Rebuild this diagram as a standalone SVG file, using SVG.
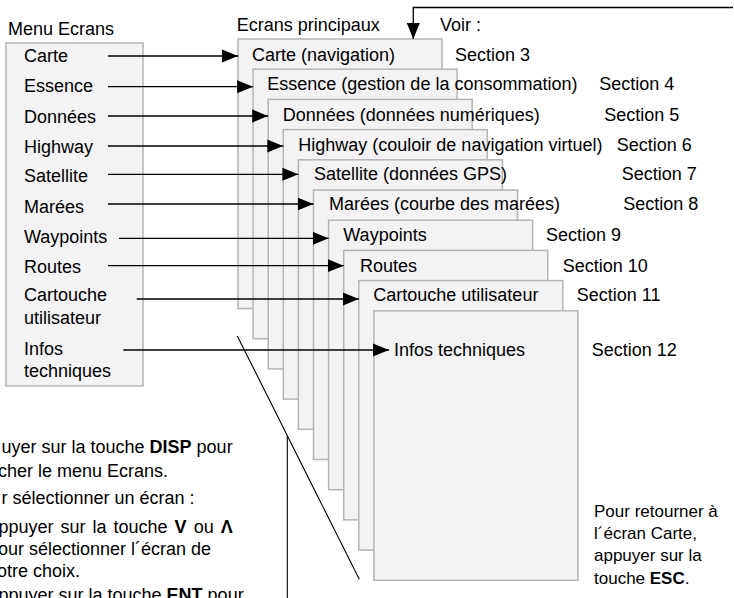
<svg xmlns="http://www.w3.org/2000/svg" width="734" height="598" viewBox="0 0 734 598">
<defs>
<marker id="ah" markerUnits="userSpaceOnUse" markerWidth="16" markerHeight="14" refX="16" refY="7" orient="auto">
<path d="M0,0.5 L16,7 L0,13.5 Z" fill="#000"/>
</marker>
<style>
text{font-family:"Liberation Sans",Arial,sans-serif;font-size:18px;fill:#000}
.sm{font-size:17px}
.b{font-weight:bold}
.box{fill:#f3f3f3;stroke:#b4b4b4;stroke-width:1.5}
.con{fill:none;stroke:#000;stroke-width:1.3}
.ln{fill:none;stroke:#000;stroke-width:1.1}
</style>
</defs>
<rect width="734" height="598" fill="#fff"/>

<g id="menu">
<text x="8" y="35">Menu Ecrans</text>
<rect class="box" x="6" y="43" width="137" height="343"/>
<text x="24" y="62">Carte</text>
<text x="24" y="92.3">Essence</text>
<text x="24" y="123">Données</text>
<text x="24" y="153">Highway</text>
<text x="24" y="182">Satellite</text>
<text x="24" y="212.7">Marées</text>
<text x="24" y="242.7">Waypoints</text>
<text x="24" y="272.7">Routes</text>
<text x="24" y="301">Cartouche</text>
<text x="24" y="324.3">utilisateur</text>
<text x="24" y="355.3">Infos</text>
<text x="24" y="377">techniques</text>
</g>

<text x="236.7" y="31">Ecrans principaux</text>
<text x="440" y="31">Voir :</text>

<g id="page-carte"><rect class="box" x="238" y="39" width="204" height="269.5"/><text x="252" y="60.7">Carte (navigation)</text></g>
<g id="page-essence"><rect class="box" x="253.1" y="69.2" width="204" height="269.5"/><text x="267.3" y="90">Essence (gestion de la consommation)</text></g>
<g id="page-donnees"><rect class="box" x="268.2" y="99.4" width="204" height="269.5"/><text x="282.7" y="120.7">Données (données numériques)</text></g>
<g id="page-highway"><rect class="box" x="283.3" y="129.6" width="204" height="269.5"/><text x="298.3" y="151">Highway (couloir de navigation virtuel)</text></g>
<g id="page-satellite"><rect class="box" x="298.4" y="159.8" width="204" height="269.5"/><text x="314" y="180">Satellite (données GPS)</text></g>
<g id="page-marees"><rect class="box" x="313.5" y="190" width="204" height="269.5"/><text x="329" y="210">Marées (courbe des marées)</text></g>
<g id="page-waypoints"><rect class="box" x="328.6" y="220.2" width="204" height="269.5"/><text x="343.3" y="240.7">Waypoints</text></g>
<g id="page-routes"><rect class="box" x="343.7" y="250.4" width="204" height="269.5"/><text x="360" y="271.7">Routes</text></g>
<g id="page-cartouche"><rect class="box" x="358.8" y="280.6" width="204" height="269.5"/><text x="373.3" y="301">Cartouche utilisateur</text></g>
<g id="page-infos"><rect class="box" x="373.9" y="310.8" width="204" height="269.5"/><text x="394" y="355.7">Infos techniques</text></g>

<g id="sections">
<text x="455" y="60.7">Section 3</text>
<text x="599.3" y="90">Section 4</text>
<text x="604.3" y="120.7">Section 5</text>
<text x="616.7" y="151">Section 6</text>
<text x="621.7" y="180">Section 7</text>
<text x="623.3" y="210">Section 8</text>
<text x="546" y="240.7">Section 9</text>
<text x="562.7" y="271.7">Section 10</text>
<text x="576.7" y="301">Section 11</text>
<text x="591.7" y="355.7">Section 12</text>
</g>

<g id="connectors">
<path class="con" d="M108,56 H238" marker-end="url(#ah)"/>
<path class="con" d="M108,86.7 H253.1" marker-end="url(#ah)"/>
<path class="con" d="M108,116 H268.2" marker-end="url(#ah)"/>
<path class="con" d="M108,146 H283.3" marker-end="url(#ah)"/>
<path class="con" d="M108,174.3 H298.4" marker-end="url(#ah)"/>
<path class="con" d="M108,204 H313.5" marker-end="url(#ah)"/>
<path class="con" d="M119,238.3 H328.6" marker-end="url(#ah)"/>
<path class="con" d="M108,265.7 H343.7" marker-end="url(#ah)"/>
<path class="con" d="M136.7,299 H358.8" marker-end="url(#ah)"/>
<path class="con" d="M123.3,350 H389" marker-end="url(#ah)"/>
<path class="con" d="M733,7.5 H413.3 V39" marker-end="url(#ah)"/>
<path class="ln" d="M237.3,336 L359.3,579.3"/>
<path class="ln" d="M287.3,436 V598"/>
</g>

<g id="note-left">
<text x="1.5" y="453.3">uyer sur la touche <tspan class="b">DISP</tspan> pour</text>
<text x="-2" y="476.7">cher le menu Ecrans.</text>
<text x="1.5" y="504">r sélectionner un écran :</text>
<text x="-1.5" y="532.7" word-spacing="2">ppuyer sur la touche <tspan class="b">V</tspan> ou <tspan class="b">Λ</tspan></text>
<text x="-2" y="555">our sélectionner l´écran de</text>
<text x="-3" y="577.3">otre choix.</text>
<text x="-1.5" y="600.5">ppuyer sur la touche <tspan class="b">ENT</tspan> pour</text>
</g>

<g id="note-right">
<text class="sm" x="594" y="516.7">Pour retourner à</text>
<text class="sm" x="594" y="539.3">l´écran Carte,</text>
<text class="sm" x="594" y="561">appuyer sur la</text>
<text class="sm" x="594" y="584.3">touche <tspan class="b">ESC</tspan>.</text>
</g>
</svg>
